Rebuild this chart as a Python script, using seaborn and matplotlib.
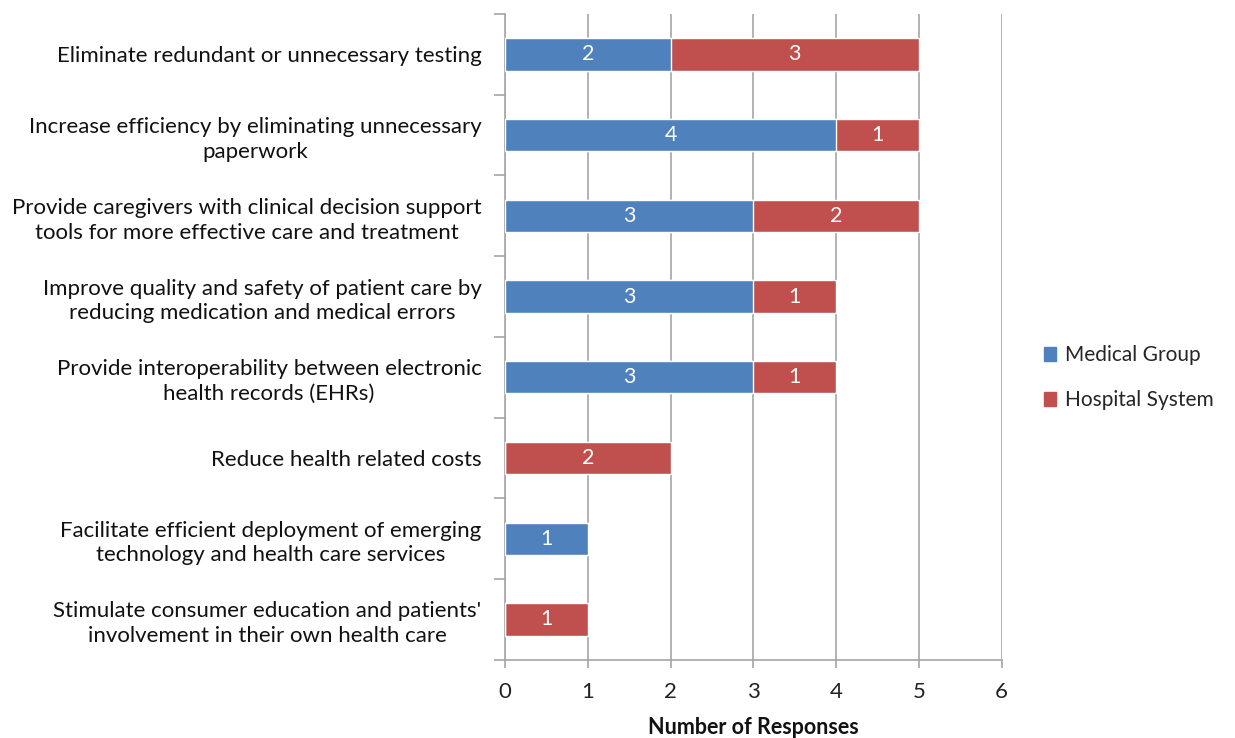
import matplotlib
matplotlib.use("Agg")
import matplotlib.pyplot as plt
import seaborn as sns
import pandas as pd
from matplotlib.patches import Patch
from matplotlib.ticker import FixedLocator

categories = [
    "Eliminate redundant or unnecessary testing",
    "Increase efficiency by eliminating unnecessary\npaperwork",
    "Provide caregivers with clinical decision support\ntools for more effective care and treatment",
    "Improve quality and safety of patient care by\nreducing medication and medical errors",
    "Provide interoperability between electronic\nhealth records (EHRs)",
    "Reduce health related costs",
    "Facilitate efficient deployment of emerging\ntechnology and health care services",
    "Stimulate consumer education and patients'\ninvolvement in their own health care",
]
medical_group = [2, 4, 3, 3, 3, 0, 1, 0]
hospital_system = [3, 1, 2, 1, 1, 2, 0, 1]
x_ticks = [0, 1, 2, 3, 4, 5, 6]

blue = "#4F81BD"
red = "#C0504D"
grid_color = "#A6A6A6"

df = pd.DataFrame({
    "category": categories,
    "medical": medical_group,
    "hospital": hospital_system,
})
df["total"] = df["medical"] + df["hospital"]

sns.set_style("white")
plt.rcParams["font.family"] = ["Lato", "DejaVu Sans"]

fig = plt.figure(figsize=(12.35, 7.38), dpi=100)
ax = fig.add_axes([0.409, 0.106, 0.402, 0.875])

# stacked: total first (red), medical on top (blue)
sns.barplot(data=df, y="category", x="total", color=red, orient="h",
            width=0.4, saturation=1, ax=ax, zorder=3)
sns.barplot(data=df, y="category", x="medical", color=blue, orient="h",
            width=0.4, saturation=1, ax=ax, zorder=3)

# value labels centred in each segment
for i, row in df.iterrows():
    if row["medical"] > 0:
        ax.text(row["medical"] / 2, i, str(row["medical"]), color="white",
                ha="center", va="center", fontsize=15.5, zorder=4)
    if row["hospital"] > 0:
        ax.text(row["medical"] + row["hospital"] / 2, i, str(row["hospital"]),
                color="white", ha="center", va="center", fontsize=15.5, zorder=4)

ax.set_xlim(0, 6)
ax.set_ylim(len(categories) - 0.5, -0.5)
ax.set_xticks(x_ticks)
ax.xaxis.grid(True, color=grid_color, linewidth=1.2, zorder=0)
ax.set_axisbelow(True)

for side in ["top", "right"]:
    ax.spines[side].set_visible(False)
for side in ["left", "bottom"]:
    ax.spines[side].set_color(grid_color)
    ax.spines[side].set_linewidth(1.2)

ax.tick_params(axis="x", bottom=True, direction="out", length=6, color=grid_color,
               width=1.2, labelsize=16, labelcolor="#222222", pad=10)
ax.tick_params(axis="y", which="major", left=True, length=0, labelsize=16,
               labelcolor="#111111", pad=17)
ax.yaxis.set_minor_locator(FixedLocator([i - 0.5 for i in range(len(categories) + 1)]))
ax.tick_params(axis="y", which="minor", left=True, direction="out", length=8,
               color=grid_color, width=1.2)
for lbl in ax.get_yticklabels():
    lbl.set_multialignment("center")
    lbl.set_linespacing(1.3)

ax.set_ylabel("")
ax.set_xlabel("Number of Responses", fontsize=15.5, fontweight="bold",
              labelpad=11, color="#111111")

handles = [Patch(color=blue, label="Medical Group"),
           Patch(color=red, label="Hospital System")]
fig.legend(handles=handles, loc="center left", bbox_to_anchor=(0.83, 0.488),
           frameon=False, fontsize=15, handlelength=0.6, handleheight=0.6,
           handletextpad=0.4, labelspacing=1.2)

fig.savefig("out.png", dpi=100)
